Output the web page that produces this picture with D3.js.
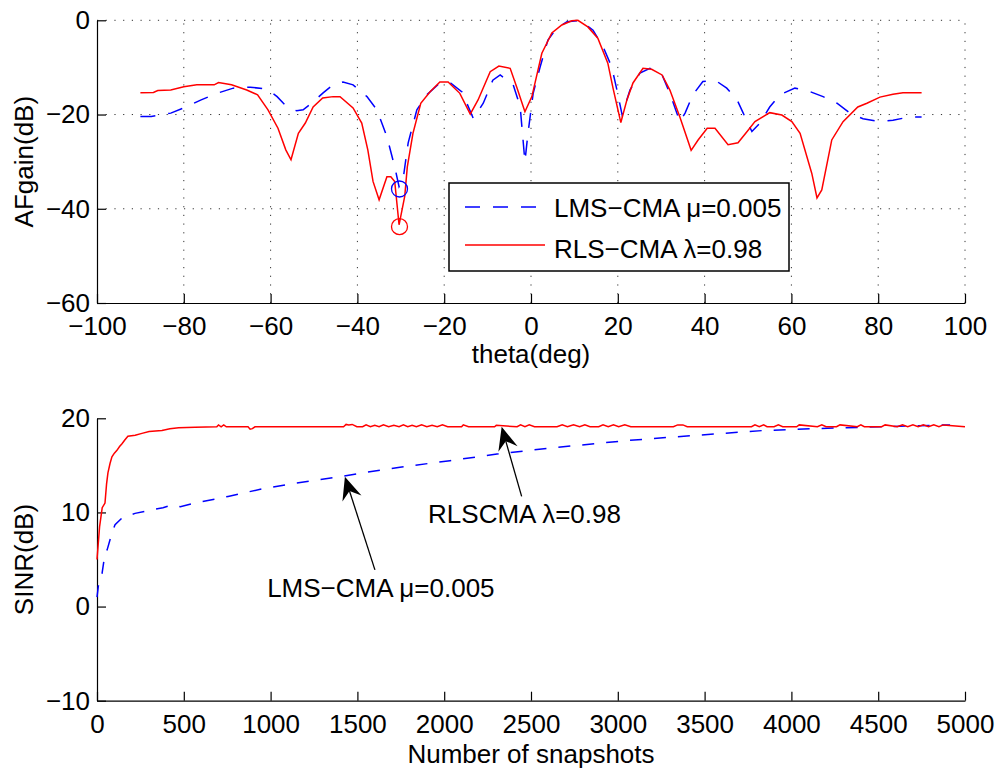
<!DOCTYPE html>
<html>
<head>
<meta charset="utf-8">
<script src="https://cdn.jsdelivr.net/npm/d3@7"></script>
<style>
    body { margin: 0; background: #fff; }
    svg text { font-family: "Liberation Sans", Arial, Helvetica, sans-serif; }
</style>
</head>
<body>
<svg id="chart" width="998" height="768"></svg>
<script>
// 上圖：陣列方向圖 (theta, dB)
var rlsTheta = [-90, -87, -86, -83, -80, -77, -73, -72, -69, -65.5, -63, -60.6, -58.3, -56.5, -55.3, -53.6, -52, -50.2, -48, -45.6, -44, -41, -39, -37.6, -36.4, -35, -33.2, -32.3, -31.4, -30.4, -29.1, -28.5, -27.2, -25.4, -23.3, -21, -19.1, -16.4, -14, -12.2, -9.4, -7.4, -4.8, -3.2, -1.4, 0.2, 2.5, 4.8, 7.1, 9.4, 10.8, 13.1, 15.4, 17.7, 18.9, 20.7, 22.1, 23.5, 25.8, 27.8, 30.2, 32, 34.3, 36.9, 38.5, 40.6, 42.4, 45.4, 47.7, 49.8, 51.6, 55, 57.8, 60.1, 62, 64.7, 65.9, 67, 69.3, 71.9, 75.3, 77.4, 80.4, 83.4, 85.7, 90];
var rlsGain = [-15.4, -15.3, -14.9, -14.8, -14.1, -13.7, -13.7, -13.2, -13.7, -14.8, -15.8, -19.0, -22.9, -27.5, -29.6, -24.0, -21.8, -18.4, -16.5, -16.2, -16.2, -18.6, -21.8, -27.5, -34.2, -38.1, -33.2, -33.2, -34.2, -43.4, -37.4, -31.1, -24.0, -17.6, -15.2, -13.1, -13.1, -15.5, -19.9, -16.9, -10.9, -9.7, -10.2, -14.4, -19.4, -16.2, -7.0, -2.7, -1.0, -0.1, 0, -1.4, -3.8, -9.1, -14.4, -21.7, -16.9, -13.3, -10.2, -10.4, -11.6, -14.8, -20.5, -27.6, -25.4, -22.9, -22.9, -26.4, -26.0, -23.6, -21.5, -19.6, -20.1, -21.5, -24.0, -32.5, -37.7, -36.0, -25.4, -21.5, -18.4, -17.6, -16.3, -15.7, -15.4, -15.4];

var lmsTheta = [-90, -87.5, -83, -80, -76, -72.4, -68.6, -64.7, -60.8, -58.5, -56.2, -54, -52.5, -50.2, -47.9, -45.6, -43.3, -41, -37.8, -35.5, -33.2, -31.4, -30.4, -29.5, -28.3, -26.3, -24, -21, -18.7, -15.9, -13.3, -11, -8.8, -7.1, -4.1, -2.5, -1.4, -0.7, 0.5, 2.1, 3.9, 5.9, 8.3, 11.3, 14.3, 16.6, 18.6, 19.8, 21, 22.8, 25.1, 27.4, 30.2, 32, 34.3, 35.5, 37.3, 39.6, 42.4, 45.1, 47.5, 48.9, 50.9, 52.8, 55, 57.4, 60.8, 63.6, 67.3, 70.5, 73.5, 76.5, 80.4, 83.4, 87.3, 90];
var lmsGain = [-20.4, -20.4, -19.7, -18.6, -16.9, -15.5, -14.4, -14.2, -14.6, -16.2, -18.4, -19.2, -19.0, -17.3, -15.4, -13.7, -13.1, -13.7, -16.2, -19.0, -24.7, -31.1, -35.3, -33.9, -26.0, -19.0, -15.8, -13.3, -13.2, -15.2, -20.8, -17.6, -12.7, -11.6, -13.7, -18.3, -30.0, -24.0, -15.5, -9.9, -4.2, -1.7, -0.3, 0, -2.1, -5.6, -9.9, -14.8, -20.1, -14.8, -11.2, -10.2, -11.6, -15.5, -21.5, -19.7, -15.8, -13.0, -12.7, -14.4, -16.9, -19.7, -23.6, -21.8, -18.4, -15.8, -14.4, -14.9, -16.2, -17.6, -19.7, -20.9, -21.5, -21.2, -20.5, -20.5];

// 干擾方向的零點標記
var nullTheta = [-30.3, -30.3];
var nullGain = [-35.8, -43.8];
var nullColor = ["#0000ff", "#ff0000"];

var thetaTicks = [-100, -80, -60, -40, -20, 0, 20, 40, 60, 80, 100];
var gainTicks = [-60, -40, -20, 0];

// 下圖：SINR 收斂曲線 (snapshots, dB)
var rlsSnap = [0, 15, 30, 46, 55, 63, 75, 86, 100, 115, 130, 144, 160, 178, 220, 259, 300, 374, 420, 470, 565, 690, 700, 715, 730, 745, 760, 870, 882, 895, 910, 1420, 1435, 1450, 1470, 1497, 1530, 1550, 1575, 1600, 1625, 1650, 1680, 1710, 1740, 1765, 1790, 1815, 1840, 1870, 1900, 1930, 1960, 1990, 2020, 2050, 2100, 2110, 2140, 2150, 2290, 2300, 2420, 2440, 2465, 2490, 2520, 2550, 2650, 2680, 2710, 2745, 2780, 2810, 2840, 2890, 2915, 2945, 2975, 3005, 3040, 3075, 3110, 3320, 3345, 3375, 3400, 3420, 3770, 3790, 3815, 3840, 3860, 3900, 3925, 3950, 3970, 4030, 4045, 4150, 4175, 4200, 4215, 4260, 4280, 4380, 4400, 4420, 4435, 4520, 4540, 4610, 4640, 4670, 4700, 4730, 4760, 4790, 4820, 4850, 4875, 5000];
var rlsSinr = [5.0, 8.5, 10.5, 11.0, 13.0, 14.2, 15.2, 15.9, 16.3, 16.6, 17.0, 17.3, 17.7, 18.1, 18.2, 18.4, 18.6, 18.7, 18.9, 19.0, 19.05, 19.1, 19.3, 19.1, 19.3, 19.1, 19.1, 19.1, 18.85, 18.9, 19.1, 19.1, 19.35, 19.3, 19.35, 19.1, 19.1, 19.3, 19.1, 19.25, 19.1, 19.3, 19.1, 19.25, 19.1, 19.3, 19.1, 19.25, 19.1, 19.3, 19.1, 19.25, 19.1, 19.3, 19.1, 19.1, 19.1, 19.3, 19.1, 19.1, 19.1, 19.25, 19.1, 19.3, 19.1, 19.3, 19.1, 19.1, 19.1, 19.3, 19.1, 19.3, 19.1, 19.3, 19.1, 19.1, 19.3, 19.1, 19.3, 19.1, 19.3, 19.1, 19.1, 19.1, 19.3, 19.3, 19.1, 19.1, 19.1, 19.3, 19.1, 19.3, 19.1, 19.1, 19.3, 19.1, 19.1, 19.1, 19.3, 19.1, 19.3, 19.1, 19.1, 19.1, 19.3, 19.1, 19.3, 19.1, 19.1, 19.1, 19.3, 19.1, 19.3, 19.1, 19.3, 19.1, 19.3, 19.1, 19.3, 19.1, 19.3, 19.1, 19.1];

var lmsSnap = [0, 10, 29, 45, 58, 75, 90, 104, 144, 219, 323, 380, 432, 480, 565, 755, 950, 1140, 1400, 1560, 1745, 2033, 2304, 2592, 3030, 3456, 3836, 4124, 4510, 4700, 4914];
var lmsSinr = [1.0, 2.5, 3.5, 5.5, 6.0, 7.1, 8.0, 8.7, 9.4, 9.9, 10.3, 10.5, 10.8, 10.6, 11.0, 11.7, 12.5, 13.1, 13.8, 14.3, 14.8, 15.5, 16.2, 16.8, 17.6, 18.2, 18.7, 18.9, 19.1, 19.2, 19.3];

var snapTicks = [0, 500, 1000, 1500, 2000, 2500, 3000, 3500, 4000, 4500, 5000];
var sinrTicks = [-10, 0, 10, 20];

var font_size = 26;
var svg = d3.select("#chart");

// ---------- 上圖 ----------
var af_x = d3.scaleLinear().domain([-100, 100]).range([97, 965]);
var af_y = d3.scaleLinear().domain([-60, 0]).range([303, 20.3]);

var af_grid = svg.append("g");
thetaTicks.slice(1).forEach(function (t) {
    af_grid.append("line")
        .attr("x1", af_x(t)).attr("x2", af_x(t))
        .attr("y1", af_y(-60)).attr("y2", af_y(0));
});
gainTicks.slice(1).forEach(function (g) {
    af_grid.append("line")
        .attr("x1", af_x(-100)).attr("x2", af_x(100))
        .attr("y1", af_y(g)).attr("y2", af_y(g));
});
af_grid.selectAll("line")
    .attr("stroke", "#333")
    .attr("stroke-width", 1)
    .attr("stroke-dasharray", "1.2,7.5");

function style_axis(g) {
    g.attr("font-size", font_size).attr("font-family", null);
    g.select(".domain").attr("stroke-width", 1.2);
    g.selectAll(".tick line").attr("stroke-width", 1.2);
    g.selectAll(".tick text").attr("fill", "#000");
}

var int_fmt = d3.format("d");

svg.append("g")
    .attr("transform", "translate(0," + af_y(-60) + ")")
    .call(d3.axisBottom(af_x).tickValues(thetaTicks).tickFormat(int_fmt).tickSize(-9).tickSizeOuter(0).tickPadding(14))
    .call(style_axis);
svg.append("g")
    .attr("transform", "translate(" + af_x(-100) + ",0)")
    .call(d3.axisLeft(af_y).tickValues(gainTicks).tickFormat(int_fmt).tickSize(-9).tickSizeOuter(0).tickPadding(7))
    .call(style_axis);

var af_line = d3.line()
    .x(function (d) { return af_x(d[0]); })
    .y(function (d) { return af_y(d[1]); });

svg.append("path")
    .attr("d", af_line(d3.zip(lmsTheta, lmsGain)))
    .attr("fill", "none").attr("stroke", "#0000ff").attr("stroke-width", 1.5)
    .attr("stroke-dasharray", "15,13");
svg.append("path")
    .attr("d", af_line(d3.zip(rlsTheta, rlsGain)))
    .attr("fill", "none").attr("stroke", "#ff0000").attr("stroke-width", 1.5);

svg.selectAll(".null_mark")
    .data(d3.range(nullTheta.length))
    .enter().append("circle")
    .attr("class", "null_mark")
    .attr("cx", function (i) { return af_x(nullTheta[i]); })
    .attr("cy", function (i) { return af_y(nullGain[i]); })
    .attr("r", 8)
    .attr("fill", "none")
    .attr("stroke", function (i) { return nullColor[i]; })
    .attr("stroke-width", 1.3);

// 圖例
var legend = svg.append("g").attr("transform", "translate(449,183)");
legend.append("rect")
    .attr("width", 340).attr("height", 88)
    .attr("fill", "#fff").attr("stroke", "#000").attr("stroke-width", 1.5);
legend.append("line")
    .attr("x1", 16).attr("x2", 96).attr("y1", 24).attr("y2", 24)
    .attr("stroke", "#0000ff").attr("stroke-width", 1.5).attr("stroke-dasharray", "15,13");
legend.append("line")
    .attr("x1", 16).attr("x2", 96).attr("y1", 62).attr("y2", 62)
    .attr("stroke", "#ff0000").attr("stroke-width", 1.5);
legend.append("text").attr("x", 105).attr("y", 34).attr("font-size", font_size).text("LMS\u2212CMA \u03bc=0.005");
legend.append("text").attr("x", 105).attr("y", 75).attr("font-size", font_size).text("RLS\u2212CMA \u03bb=0.98");

svg.append("text")
    .attr("x", af_x(0)).attr("y", 363)
    .attr("text-anchor", "middle").attr("font-size", font_size)
    .text("theta(deg)");
svg.append("text")
    .attr("transform", "translate(33," + af_y(-30) + ") rotate(-90)")
    .attr("text-anchor", "middle").attr("font-size", font_size)
    .text("AFgain(dB)");

// ---------- 下圖 ----------
var sinr_x = d3.scaleLinear().domain([0, 5000]).range([97, 965]);
var sinr_y = d3.scaleLinear().domain([-10, 20]).range([700.7, 418.3]);

svg.append("g")
    .attr("transform", "translate(0," + sinr_y(-10) + ")")
    .call(d3.axisBottom(sinr_x).tickValues(snapTicks).tickFormat(int_fmt).tickSize(-9).tickSizeOuter(0).tickPadding(14))
    .call(style_axis);
svg.append("g")
    .attr("transform", "translate(" + sinr_x(0) + ",0)")
    .call(d3.axisLeft(sinr_y).tickValues(sinrTicks).tickFormat(int_fmt).tickSize(-9).tickSizeOuter(0).tickPadding(7))
    .call(style_axis);

var sinr_line = d3.line()
    .x(function (d) { return sinr_x(d[0]); })
    .y(function (d) { return sinr_y(d[1]); });

svg.append("path")
    .attr("d", sinr_line(d3.zip(lmsSnap, lmsSinr)))
    .attr("fill", "none").attr("stroke", "#0000ff").attr("stroke-width", 1.5)
    .attr("stroke-dasharray", "12,12");
svg.append("path")
    .attr("d", sinr_line(d3.zip(rlsSnap, rlsSinr)))
    .attr("fill", "none").attr("stroke", "#ff0000").attr("stroke-width", 1.5);

// 註解箭頭
function draw_arrow(n1, v1, n2, v2) {
    var x1 = sinr_x(n1), y1 = sinr_y(v1), x2 = sinr_x(n2), y2 = sinr_y(v2);
    var dx = x2 - x1, dy = y2 - y1, len = Math.sqrt(dx * dx + dy * dy);
    var ux = dx / len, uy = dy / len;
    var head_len = 23, head_w = 10, notch = 15;
    var bx = x2 - ux * head_len, by = y2 - uy * head_len;
    var nx = x2 - ux * notch, ny = y2 - uy * notch;
    svg.append("line")
        .attr("x1", x1).attr("y1", y1).attr("x2", nx).attr("y2", ny)
        .attr("stroke", "#000").attr("stroke-width", 1.3);
    svg.append("path")
        .attr("d", "M" + x2 + "," + y2 +
            "L" + (bx - uy * head_w) + "," + (by + ux * head_w) +
            "L" + nx + "," + ny +
            "L" + (bx + uy * head_w) + "," + (by - ux * head_w) + "Z")
        .attr("fill", "#000");
}
draw_arrow(1601, 3.9, 1428, 13.8);
draw_arrow(2446, 11.7, 2331, 19.1);

svg.append("text")
    .attr("x", sinr_x(980)).attr("y", sinr_y(1.0))
    .attr("font-size", font_size)
    .text("LMS\u2212CMA \u03bc=0.005");
svg.append("text")
    .attr("x", sinr_x(1907)).attr("y", sinr_y(8.9))
    .attr("font-size", font_size)
    .text("RLSCMA \u03bb=0.98");

svg.append("text")
    .attr("x", sinr_x(2500)).attr("y", 763)
    .attr("text-anchor", "middle").attr("font-size", font_size)
    .text("Number of snapshots");
svg.append("text")
    .attr("transform", "translate(33," + sinr_y(5) + ") rotate(-90)")
    .attr("text-anchor", "middle").attr("font-size", font_size)
    .text("SINR(dB)");
</script>
</body>
</html>
